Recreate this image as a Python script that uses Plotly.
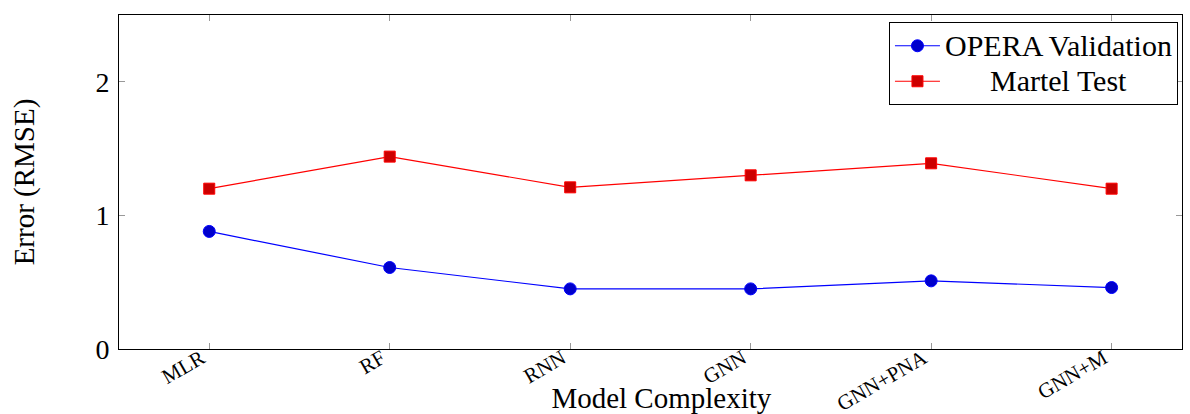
import plotly.graph_objects as go

models = ["MLR", "RF", "RNN", "GNN", "GNN+PNA", "GNN+M"]
opera_validation = [0.88, 0.61, 0.45, 0.45, 0.51, 0.46]
martel_test = [1.20, 1.44, 1.21, 1.30, 1.39, 1.20]
y_ticks = [0, 1, 2]

SERIF = "'Liberation Serif', 'Times New Roman', serif"

fig = go.Figure()
fig.add_trace(go.Scatter(
    x=models, y=opera_validation, mode="lines+markers",
    name='<span style="font-size:30px">OPERA Validation</span>',
    line=dict(color="#0000ff", width=1.2),
    marker=dict(symbol="circle", size=12, color="#0000cc", line=dict(color="#0000ff", width=1)),
))
fig.add_trace(go.Scatter(
    x=models, y=martel_test, mode="lines+markers",
    name='<span style="font-size:30px">      Martel Test</span>',
    line=dict(color="#ff0000", width=1.2),
    marker=dict(symbol="square", size=11, color="#cc0000", line=dict(color="#ff0000", width=1)),
))

fig.update_layout(
    width=1190, height=414,
    margin=dict(l=119, r=8, t=15, b=65),
    plot_bgcolor="white", paper_bgcolor="white",
    font=dict(family=SERIF, color="black"),
    showlegend=True,
    legend=dict(
        x=0.9962, y=0.979, xanchor="right", yanchor="top",
        bordercolor="black", borderwidth=1, bgcolor="white",
        font=dict(size=25, family=SERIF),
        itemwidth=45, tracegroupgap=0,
    ),
    xaxis=dict(
        range=[-0.5, 5.39], showgrid=False, zeroline=False, automargin=False,
        showline=True, linecolor="black", linewidth=1, mirror="ticks",
        ticks="inside", ticklen=6, tickcolor="#999999",
        tickangle=-30, tickfont=dict(size=21, family=SERIF),
        ticklabelshift=-8, ticklabelstandoff=-12,
        title=dict(text="&nbsp;&nbsp;&nbsp;Model Complexity", font=dict(size=29, family=SERIF), standoff=0),
    ),
    yaxis=dict(
        range=[0, 2.5], showgrid=False, zeroline=False, automargin=False,
        showline=True, linecolor="black", linewidth=1, mirror="ticks",
        ticks="inside", ticklen=6, tickcolor="#999999",
        tickvals=y_ticks, ticktext=[str(v) for v in y_ticks],
        tickfont=dict(size=28, family=SERIF), ticklabelstandoff=3,
        title=dict(text="Error (RMSE)", font=dict(size=29, family=SERIF), standoff=52),
    ),
)

fig.write_html(
    "out.html",
    config={"displayModeBar": False},
    post_script="document.body.style.margin='0';document.body.style.padding='0';",
)
